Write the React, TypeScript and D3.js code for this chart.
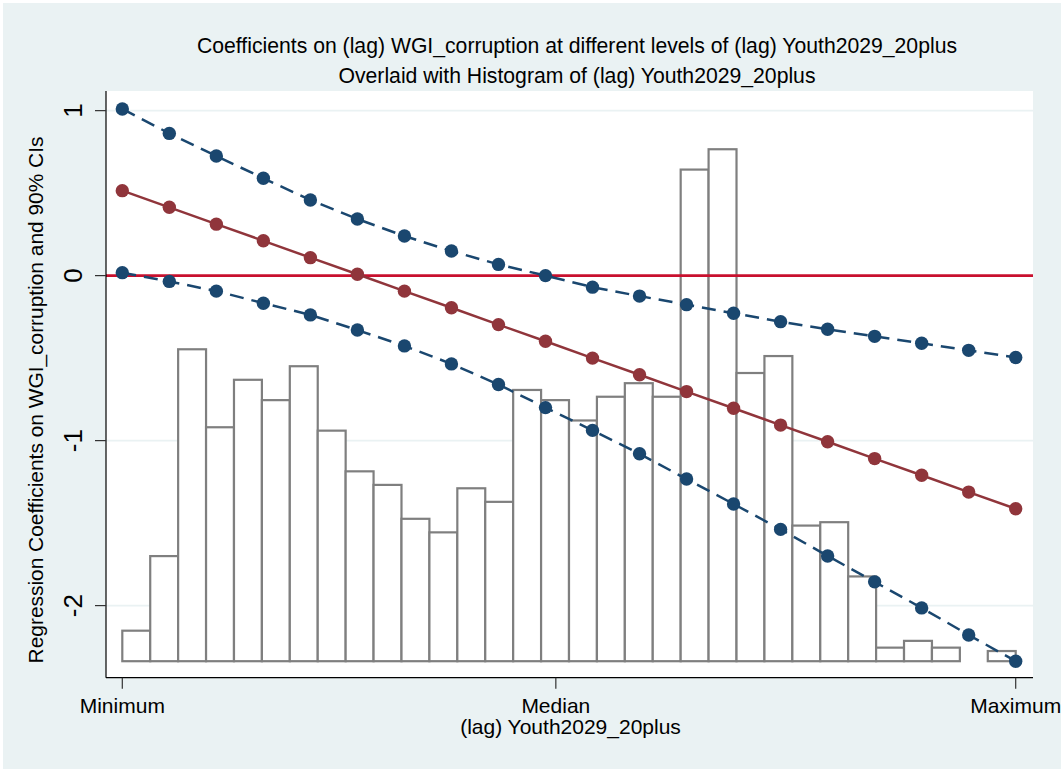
import React from "react";
import * as d3 from "d3";

// ---- data ----
const levels = [0, 1, 2, 3, 4, 5, 6, 7, 8, 9, 10, 11, 12, 13, 14, 15, 16, 17, 18, 19];
const upperCI = [1.01, 0.862, 0.725, 0.59, 0.458, 0.343, 0.24, 0.149, 0.068, 0.0, -0.07, -0.124, -0.176, -0.228, -0.279, -0.325, -0.368, -0.41, -0.453, -0.496];
const coef = [0.515, 0.414, 0.312, 0.211, 0.109, 0.008, -0.094, -0.195, -0.297, -0.398, -0.5, -0.601, -0.703, -0.804, -0.906, -1.007, -1.109, -1.21, -1.312, -1.413];
const lowerCI = [0.018, -0.035, -0.094, -0.167, -0.238, -0.33, -0.426, -0.535, -0.66, -0.8, -0.938, -1.08, -1.233, -1.384, -1.538, -1.699, -1.856, -2.014, -2.178, -2.337];
const histCounts = [9, 31, 92, 69, 83, 77, 87, 68, 56, 52, 42, 38, 51, 47, 80, 77, 71, 78, 82, 78, 145, 151, 85, 90, 40, 41, 25, 4, 6, 4, 0, 3];
const xMin = 0;
const xMax = 19;
const xMedian = 9.22;
const xTickValues = [xMin, xMedian, xMax];
const xTickLabels = ["Minimum", "Median", "Maximum"];
const yTickValues = [-2, -1, 0, 1];
const yGridValues = [-2, -1, 1];
const histBase = -2.337;
const histTopValue = 0.766;

const titleLines = [
  "Coefficients on (lag) WGI_corruption at different levels of (lag) Youth2029_20plus",
  "Overlaid with Histogram of (lag) Youth2029_20plus",
];
const xTitle = "(lag) Youth2029_20plus";
const yTitle = "Regression Coefficients on WGI_corruption and 90% CIs";

// ---- layout ----
const W = 1063;
const H = 771;
const plot = { left: 106, right: 1033, top: 91, bottom: 677.7 };
const FONT = "'Liberation Sans', Arial, sans-serif";
const NAVY = "#1a476f";
const MAROON = "#90353b";
const ZERO = "#c8102e";
const BG = "#eaf2f3";
const BAR = "#7f7f7f";

export default function App() {
  const x = d3.scaleLinear().domain([xMin, xMax]).range([122.3, 1015.7]);
  const y = d3.scaleLinear().domain([-2.437, 1.119]).range([plot.bottom, plot.top]);
  const hy = d3
    .scaleLinear()
    .domain([0, d3.max(histCounts) as number])
    .range([y(histBase), y(histTopValue)]);

  const nb = histCounts.length;
  const bw = (xMax - xMin) / nb;

  const line = d3
    .line<number>()
    .x((_, i) => x(levels[i]))
    .y((d) => y(d));

  const series = [
    { vals: upperCI, color: NAVY, dash: "14,8" },
    { vals: lowerCI, color: NAVY, dash: "14,8" },
    { vals: coef, color: MAROON, dash: undefined as string | undefined },
  ];

  return (
    <div style={{ position: "absolute", left: 0, top: 0 }}>
      <svg width={W} height={H} style={{ display: "block" }} fontFamily={FONT}>
        <rect x={0} y={0} width={W} height={H} fill="#ffffff" />
        <rect x={3} y={3} width={1058} height={766} fill={BG} />
        <rect
          x={plot.left}
          y={plot.top}
          width={plot.right - plot.left}
          height={plot.bottom - plot.top}
          fill="#ffffff"
        />
        {/* grid */}
        {yGridValues.map((v) => (
          <line
            key={"g" + v}
            x1={plot.left}
            x2={plot.right}
            y1={y(v)}
            y2={y(v)}
            stroke={BG}
            strokeWidth={1.6}
          />
        ))}
        {/* histogram */}
        {histCounts.map((c, i) =>
          c > 0 ? (
            <rect
              key={"b" + i}
              x={x(xMin + i * bw)}
              y={hy(c)}
              width={x(xMin + (i + 1) * bw) - x(xMin + i * bw)}
              height={hy(0) - hy(c)}
              fill="#ffffff"
              stroke={BAR}
              strokeWidth={2.2}
            />
          ) : null
        )}
        {/* zero line */}
        <line
          x1={plot.left}
          x2={plot.right}
          y1={y(0)}
          y2={y(0)}
          stroke={ZERO}
          strokeWidth={2.6}
        />
        {/* series */}
        {series.map((s, si) => (
          <g key={"s" + si}>
            <path
              d={line(s.vals) || ""}
              fill="none"
              stroke={s.color}
              strokeWidth={2.5}
              strokeDasharray={s.dash}
            />
            {s.vals.map((v, i) => (
              <circle key={i} cx={x(levels[i])} cy={y(v)} r={6.7} fill={s.color} />
            ))}
          </g>
        ))}
        {/* axes */}
        <line x1={plot.left} x2={plot.left} y1={plot.top} y2={plot.bottom} stroke="#000" strokeWidth={1.2} />
        <line x1={plot.left} x2={plot.right} y1={plot.bottom} y2={plot.bottom} stroke="#000" strokeWidth={1.2} />
        {yTickValues.map((v) => (
          <g key={"yt" + v}>
            <line x1={plot.left - 11} x2={plot.left} y1={y(v)} y2={y(v)} stroke="#333" strokeWidth={1.2} />
            <text
              transform={`translate(${81.5},${y(v)}) rotate(-90)`}
              textAnchor="middle"
              fontSize={26}
              fill="#000"
            >
              {v}
            </text>
          </g>
        ))}
        {xTickValues.map((v, i) => (
          <g key={"xt" + i}>
            <line x1={x(v)} x2={x(v)} y1={plot.bottom} y2={plot.bottom + 11} stroke="#333" strokeWidth={1.2} />
            <text x={x(v)} y={713} textAnchor="middle" fontSize={21} fill="#000">
              {xTickLabels[i]}
            </text>
          </g>
        ))}
        <text x={(plot.left + plot.right) / 2 + 1} y={734} textAnchor="middle" fontSize={21} fill="#000">
          {xTitle}
        </text>
        <text
          transform={`translate(${42.5},${400}) rotate(-90)`}
          textAnchor="middle"
          fontSize={20.9}
          fill="#000"
        >
          {yTitle}
        </text>
        {titleLines.map((t, i) => (
          <text key={"t" + i} x={577} y={52.7 + i * 30.6} textAnchor="middle" fontSize={21.2} fill="#000">
            {t}
          </text>
        ))}
      </svg>
    </div>
  );
}
